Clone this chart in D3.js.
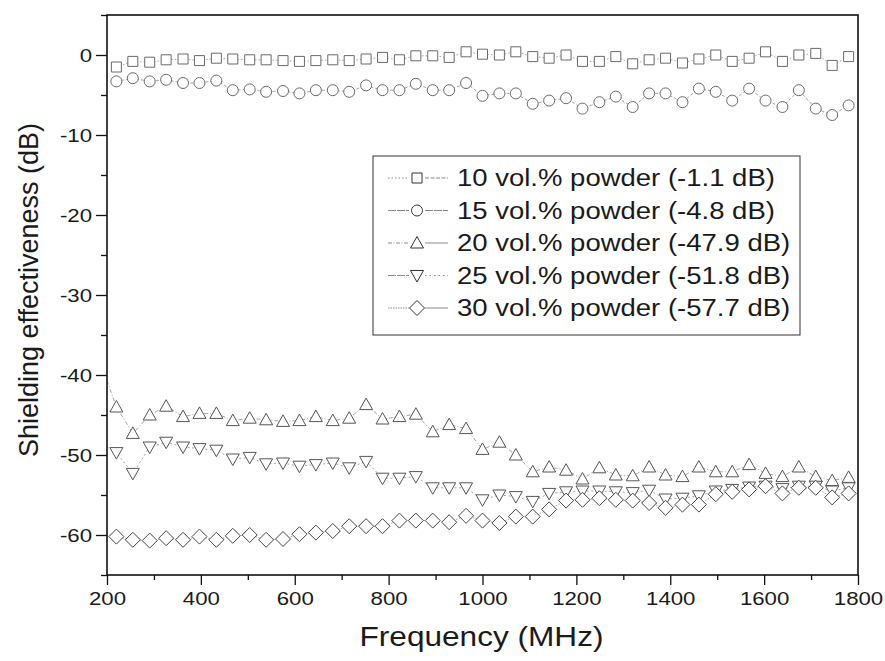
<!DOCTYPE html>
<html><head><meta charset="utf-8">
<script src="https://cdn.jsdelivr.net/npm/d3@7"></script>
<style>html,body{margin:0;padding:0;background:#fff}svg{display:block}</style>
</head><body>
<svg id="chart" width="885" height="661"></svg>
<script>
// ---- data ----
const freq = [220,255,291,326,362,397,433,468,504,539,575,610,645,681,716,752,787,823,858,894,929,965,1000,
  1036,1071,1107,1142,1178,1213,1249,1284,1320,1355,1390,1426,1461,1497,1532,1568,1603,1639,1674,1710,1745,1780];
const se10 = [-1.5,-0.8,-0.9,-0.6,-0.5,-0.7,-0.4,-0.5,-0.6,-0.6,-0.7,-0.8,-0.7,-0.6,-0.7,-0.5,-0.3,-0.6,-0.1,-0.1,-0.3,0.4,0.1,
  0.0,0.4,-0.2,-0.4,0.0,-0.8,-0.8,-0.2,-1.1,-0.6,-0.4,-1.0,-0.5,0.0,-0.8,-0.4,0.4,-0.8,0.0,0.2,-1.3,-0.2];
const se15 = [-3.3,-2.9,-3.3,-3.1,-3.5,-3.5,-3.2,-4.4,-4.3,-4.6,-4.5,-4.8,-4.4,-4.4,-4.6,-3.8,-4.4,-4.4,-3.6,-4.4,-4.4,-3.5,-5.1,
  -4.8,-4.8,-6.1,-5.7,-5.4,-6.7,-5.9,-5.2,-6.5,-4.8,-4.8,-5.9,-4.2,-4.6,-5.7,-4.2,-5.7,-6.5,-4.4,-6.7,-7.5,-6.3];
const se20 = [-44.0,-47.3,-45.0,-43.9,-45.2,-44.8,-44.8,-45.7,-45.4,-45.6,-45.8,-45.7,-45.2,-45.7,-45.4,-43.7,-45.5,-45.2,-44.9,-47.1,-46.2,-46.7,-49.3,
  -48.4,-50.0,-52.1,-51.5,-51.9,-53.0,-51.6,-52.5,-52.6,-51.5,-52.5,-52.7,-51.5,-52.1,-52.1,-51.2,-52.3,-52.7,-51.5,-52.7,-53.2,-52.8];
const se25 = [-49.7,-52.3,-49.0,-48.4,-49.0,-49.2,-49.4,-50.5,-50.3,-51.1,-51.0,-51.4,-51.2,-51.0,-51.6,-50.8,-52.9,-52.9,-52.7,-54.1,-54.1,-54.1,-55.6,
  -55.0,-55.2,-55.8,-54.8,-54.6,-54.5,-54.5,-54.6,-54.7,-54.4,-55.5,-55.4,-55.1,-54.5,-54.3,-54.0,-53.9,-54.2,-53.9,-53.9,-54.5,-54.1];
const se30 = [-60.2,-60.6,-60.7,-60.4,-60.6,-60.2,-60.6,-60.1,-60.0,-60.6,-60.5,-59.9,-59.7,-59.5,-58.9,-58.9,-58.9,-58.2,-58.2,-58.2,-58.4,-57.6,-58.2,
  -58.5,-57.7,-57.7,-56.8,-55.7,-55.6,-55.4,-55.6,-55.7,-56.0,-56.6,-56.2,-56.2,-54.9,-54.6,-54.3,-53.9,-54.8,-54.1,-54.1,-55.3,-54.8];
// line-only leading points (measurement trace starts at 200 MHz)
const leadFreq = [200];
const lead20 = [-40.7];
const lead25 = [-49.0];

const seriesNames = ["10 vol.% powder (-1.1 dB)","15 vol.% powder (-4.8 dB)","20 vol.% powder (-47.9 dB)","25 vol.% powder (-51.8 dB)","30 vol.% powder (-57.7 dB)"];
const xMajor = [200,400,600,800,1000,1200,1400,1600,1800];
const xMinor = [300,500,700,900,1100,1300,1500,1700];
const yMajor = [-60,-50,-40,-30,-20,-10,0];
const yMinor = [-65,-55,-45,-35,-25,-15,-5,5];
const xTitle = "Frequency (MHz)";
const yTitle = "Shielding effectiveness (dB)";

// ---- layout ----
const L = 107, R = 858, T = 15, B = 575;
const STRETCH = 1.17;
const FONT = "'Liberation Sans', Arial, Helvetica, sans-serif";
const svg = d3.select("#chart");
const x = d3.scaleLinear().domain([200,1800]).range([L,R]);
const y = d3.scaleLinear().domain([-65,5]).range([B,T]);

function stretch(sel, f) {
  sel.each(function(){
    const len = this.getComputedTextLength();
    d3.select(this).attr("textLength", len*f).attr("lengthAdjust","spacingAndGlyphs");
  });
}

// marker shapes
const shapes = {
  square: "M-5,-5h10v10h-10Z",
  circle: "M5.5,0A5.5,5.5 0 1,1 -5.5,0A5.5,5.5 0 1,1 5.5,0Z",
  up: "M0,-6.5L6.5,5L-6.5,5Z",
  down: "M0,6.5L6.5,-5L-6.5,-5Z",
  diamond: "M0,-7.5L7.5,0L0,7.5L-7.5,0Z"
};

const series = [
  {vals: se10, shape: "square", dash: "1.5,2", lead: null, col: "#6a6a6a"},
  {vals: se15, shape: "circle", dash: "3,2", lead: null, col: "#6a6a6a"},
  {vals: se20, shape: "up", dash: "4,2,1,2", lead: lead20, col: "#555"},
  {vals: se25, shape: "down", dash: "2,2.5", lead: lead25, col: "#555"},
  {vals: se30, shape: "diamond", dash: "1.5,1.5", lead: null, col: "#444"}
];

const plot = svg.append("g");
const line = d3.line().x(d=>x(d[0])).y(d=>y(d[1]));
series.forEach(s => {
  let pts = freq.map((f,i)=>[f, s.vals[i]]);
  if (s.lead) pts = leadFreq.map((f,i)=>[f, s.lead[i]]).concat(pts);
  plot.append("path").attr("d", line(pts)).attr("fill","none")
    .attr("stroke","#9a9a9a").attr("stroke-width",0.9).attr("stroke-dasharray", s.dash);
});
series.forEach(s => {
  plot.append("g").selectAll("path").data(freq.map((f,i)=>[f,s.vals[i]])).join("path")
    .attr("d", shapes[s.shape])
    .attr("transform", d=>`translate(${x(d[0])},${y(d[1])})`)
    .attr("fill","#fff").attr("stroke",s.col).attr("stroke-width",1);
});

// ---- axes ----
const fmt = d => String(d);
const axStyle = g => { g.select(".domain").remove(); g.selectAll("line").attr("stroke","#111").attr("stroke-width",1.3); };
const gx = svg.append("g").attr("transform",`translate(0,${B})`)
  .call(d3.axisBottom(x).tickValues(xMajor).tickSize(10).tickPadding(7).tickFormat(fmt));
gx.call(axStyle);
gx.selectAll("text").attr("font-family",FONT).attr("font-size",19).attr("fill","#1a1a1a");
svg.append("g").attr("transform",`translate(0,${B})`)
  .call(d3.axisBottom(x).tickValues(xMinor).tickSize(5).tickFormat(""))
  .call(axStyle);

const gy = svg.append("g").attr("transform",`translate(${L},0)`)
  .call(d3.axisLeft(y).tickValues(yMajor).tickSize(11).tickPadding(4).tickFormat(fmt));
gy.call(axStyle);
gy.selectAll("text").attr("font-family",FONT).attr("font-size",19).attr("fill","#1a1a1a");
svg.append("g").attr("transform",`translate(${L},0)`)
  .call(d3.axisLeft(y).tickValues(yMinor).tickSize(6).tickFormat(""))
  .call(axStyle);

// frame
svg.append("rect").attr("x",L).attr("y",T).attr("width",R-L).attr("height",B-T)
  .attr("fill","none").attr("stroke","#111").attr("stroke-width",1.6);

// titles
const xt = svg.append("text").attr("x",(L+R)/2 - 1).attr("y",646).attr("text-anchor","middle")
  .attr("font-family",FONT).attr("font-size",27).attr("fill","#1a1a1a").text(xTitle);
const yt = svg.append("text").attr("transform","translate(38,290) rotate(-90)").attr("text-anchor","middle")
  .attr("font-family",FONT).attr("font-size",27).attr("fill","#1a1a1a").text(yTitle);

// ---- legend ----
const lg = svg.append("g");
lg.append("rect").attr("x",373).attr("y",156).attr("width",427).attr("height",179)
  .attr("fill","#fff").attr("stroke","#333").attr("stroke-width",1);
const legDash = [["1.5,2","4,1.5"],["8,1","8,1"],["4,1.5,1,1.5","20,0"],["8,1","1.5,3"],["1.5,1","20,0"]];
seriesNames.forEach((name,i) => {
  const by = 186 + i*32.5, cy = by - 8;
  lg.append("line").attr("x1",388).attr("x2",409).attr("y1",cy).attr("y2",cy)
    .attr("stroke","#8a8a8a").attr("stroke-width",1).attr("stroke-dasharray",legDash[i][0]);
  lg.append("line").attr("x1",425).attr("x2",448).attr("y1",cy).attr("y2",cy)
    .attr("stroke","#8a8a8a").attr("stroke-width",1).attr("stroke-dasharray",legDash[i][1]);
  lg.append("path").attr("d",shapes[series[i].shape]).attr("transform",`translate(417,${cy})`)
    .attr("fill","#fff").attr("stroke","#333").attr("stroke-width",1);
  lg.append("text").attr("x",457).attr("y",by).attr("font-family",FONT).attr("font-size",23.5)
    .attr("fill","#1a1a1a").text(name);
});
stretch(lg.selectAll("text"), STRETCH);
stretch(gx.selectAll("text"), STRETCH);
stretch(gy.selectAll("text"), STRETCH);
stretch(xt, STRETCH);
</script>
</body></html>
